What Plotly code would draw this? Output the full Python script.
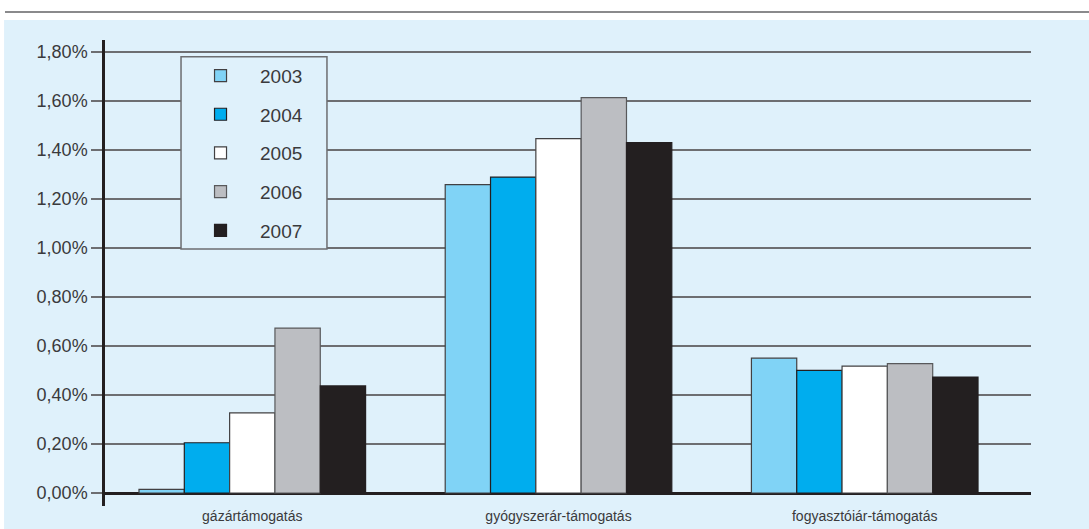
import plotly.graph_objects as go

# Támogatási formák (kategóriák) és évek
categories = ["gázártámogatás", "gyógyszerár-támogatás", "fogyasztóiár-támogatás"]
years = ["2003", "2004", "2005", "2006", "2007"]

# Értékek százalékban, évenként a három kategóriára
values_2003 = [0.015, 1.258, 0.550]
values_2004 = [0.205, 1.289, 0.500]
values_2005 = [0.327, 1.446, 0.518]
values_2006 = [0.673, 1.613, 0.528]
values_2007 = [0.437, 1.429, 0.473]

series = [values_2003, values_2004, values_2005, values_2006, values_2007]
fill_colors = ["#80d3f6", "#00adee", "#ffffff", "#bcbec2", "#231f20"]
line_colors = ["#414042", "#231f20", "#414042", "#58595b", "#231f20"]

y_ticks = [0.0, 0.2, 0.4, 0.6, 0.8, 1.0, 1.2, 1.4, 1.6, 1.8]

PANEL = "#dff1fb"
TEXT = "#3a3a3c"
GRID = "#6d6e71"
DARK = "#231f20"
FONT = "Liberation Sans, Arial, sans-serif"

fig = go.Figure()
for year, vals, fc, lc in zip(years, series, fill_colors, line_colors):
    fig.add_trace(go.Bar(
        name=year,
        x=categories,
        y=[v / 100 for v in vals],
        marker=dict(color=fc, line=dict(color=lc, width=1.2)),
        legendgroup=year,
    ))

# Háttérpanel és felső elválasztó vonal
fig.add_shape(type="rect", xref="paper", yref="paper",
              x0=-0.109, x1=1.07, y0=-0.06, y1=1.0429,
              fillcolor=PANEL, line=dict(width=0), layer="below")
fig.add_shape(type="line", xref="paper", yref="paper",
              x0=-0.108, x1=1.07, y0=1.0601, y1=1.0601,
              line=dict(color="#8a8a8c", width=2), layer="below")
# Jelmagyarázat kerete (eltakarja a rácsvonalakat)
fig.add_shape(type="rect", xref="paper", yref="paper",
              x0=0.0821, x1=0.2397, y0=0.5515, y1=0.9642,
              fillcolor=PANEL, line=dict(color=GRID, width=1.5), layer="above")

fig.update_layout(
    width=1089, height=529,
    margin=dict(l=105, r=58, t=40, b=23),
    paper_bgcolor="white",
    plot_bgcolor="rgba(0,0,0,0)",
    separators=", ",
    barmode="group",
    bargap=0.26,
    bargroupgap=0,
    font=dict(family=FONT, color=TEXT),
    legend=dict(
        x=0.0821, y=0.9642, xanchor="left", yanchor="top",
        bgcolor="rgba(0,0,0,0)", borderwidth=0,
        font=dict(family=FONT, size=19, color=TEXT),
        traceorder="grouped", tracegroupgap=11,
        itemwidth=69,
    ),
    xaxis=dict(
        type="category",
        range=[-0.481, 2.543],
        automargin=False,
        showgrid=False, showline=False, ticks="",
        tickfont=dict(family=FONT, size=14, color=TEXT),
    ),
    yaxis=dict(
        range=[-0.00053, 0.01848],
        automargin=False,
        tickvals=[t / 100 for t in y_ticks],
        tickformat=".2%",
        showgrid=True, gridcolor=GRID, gridwidth=1.5,
        ticks="outside", ticklen=11, tickcolor=GRID, tickwidth=1.5,
        showline=True, linecolor=DARK, linewidth=2.5,
        zeroline=True, zerolinecolor=DARK, zerolinewidth=2.5,
        tickfont=dict(family=FONT, size=18, color=TEXT),
    ),
)

fig.write_html("out.html")
